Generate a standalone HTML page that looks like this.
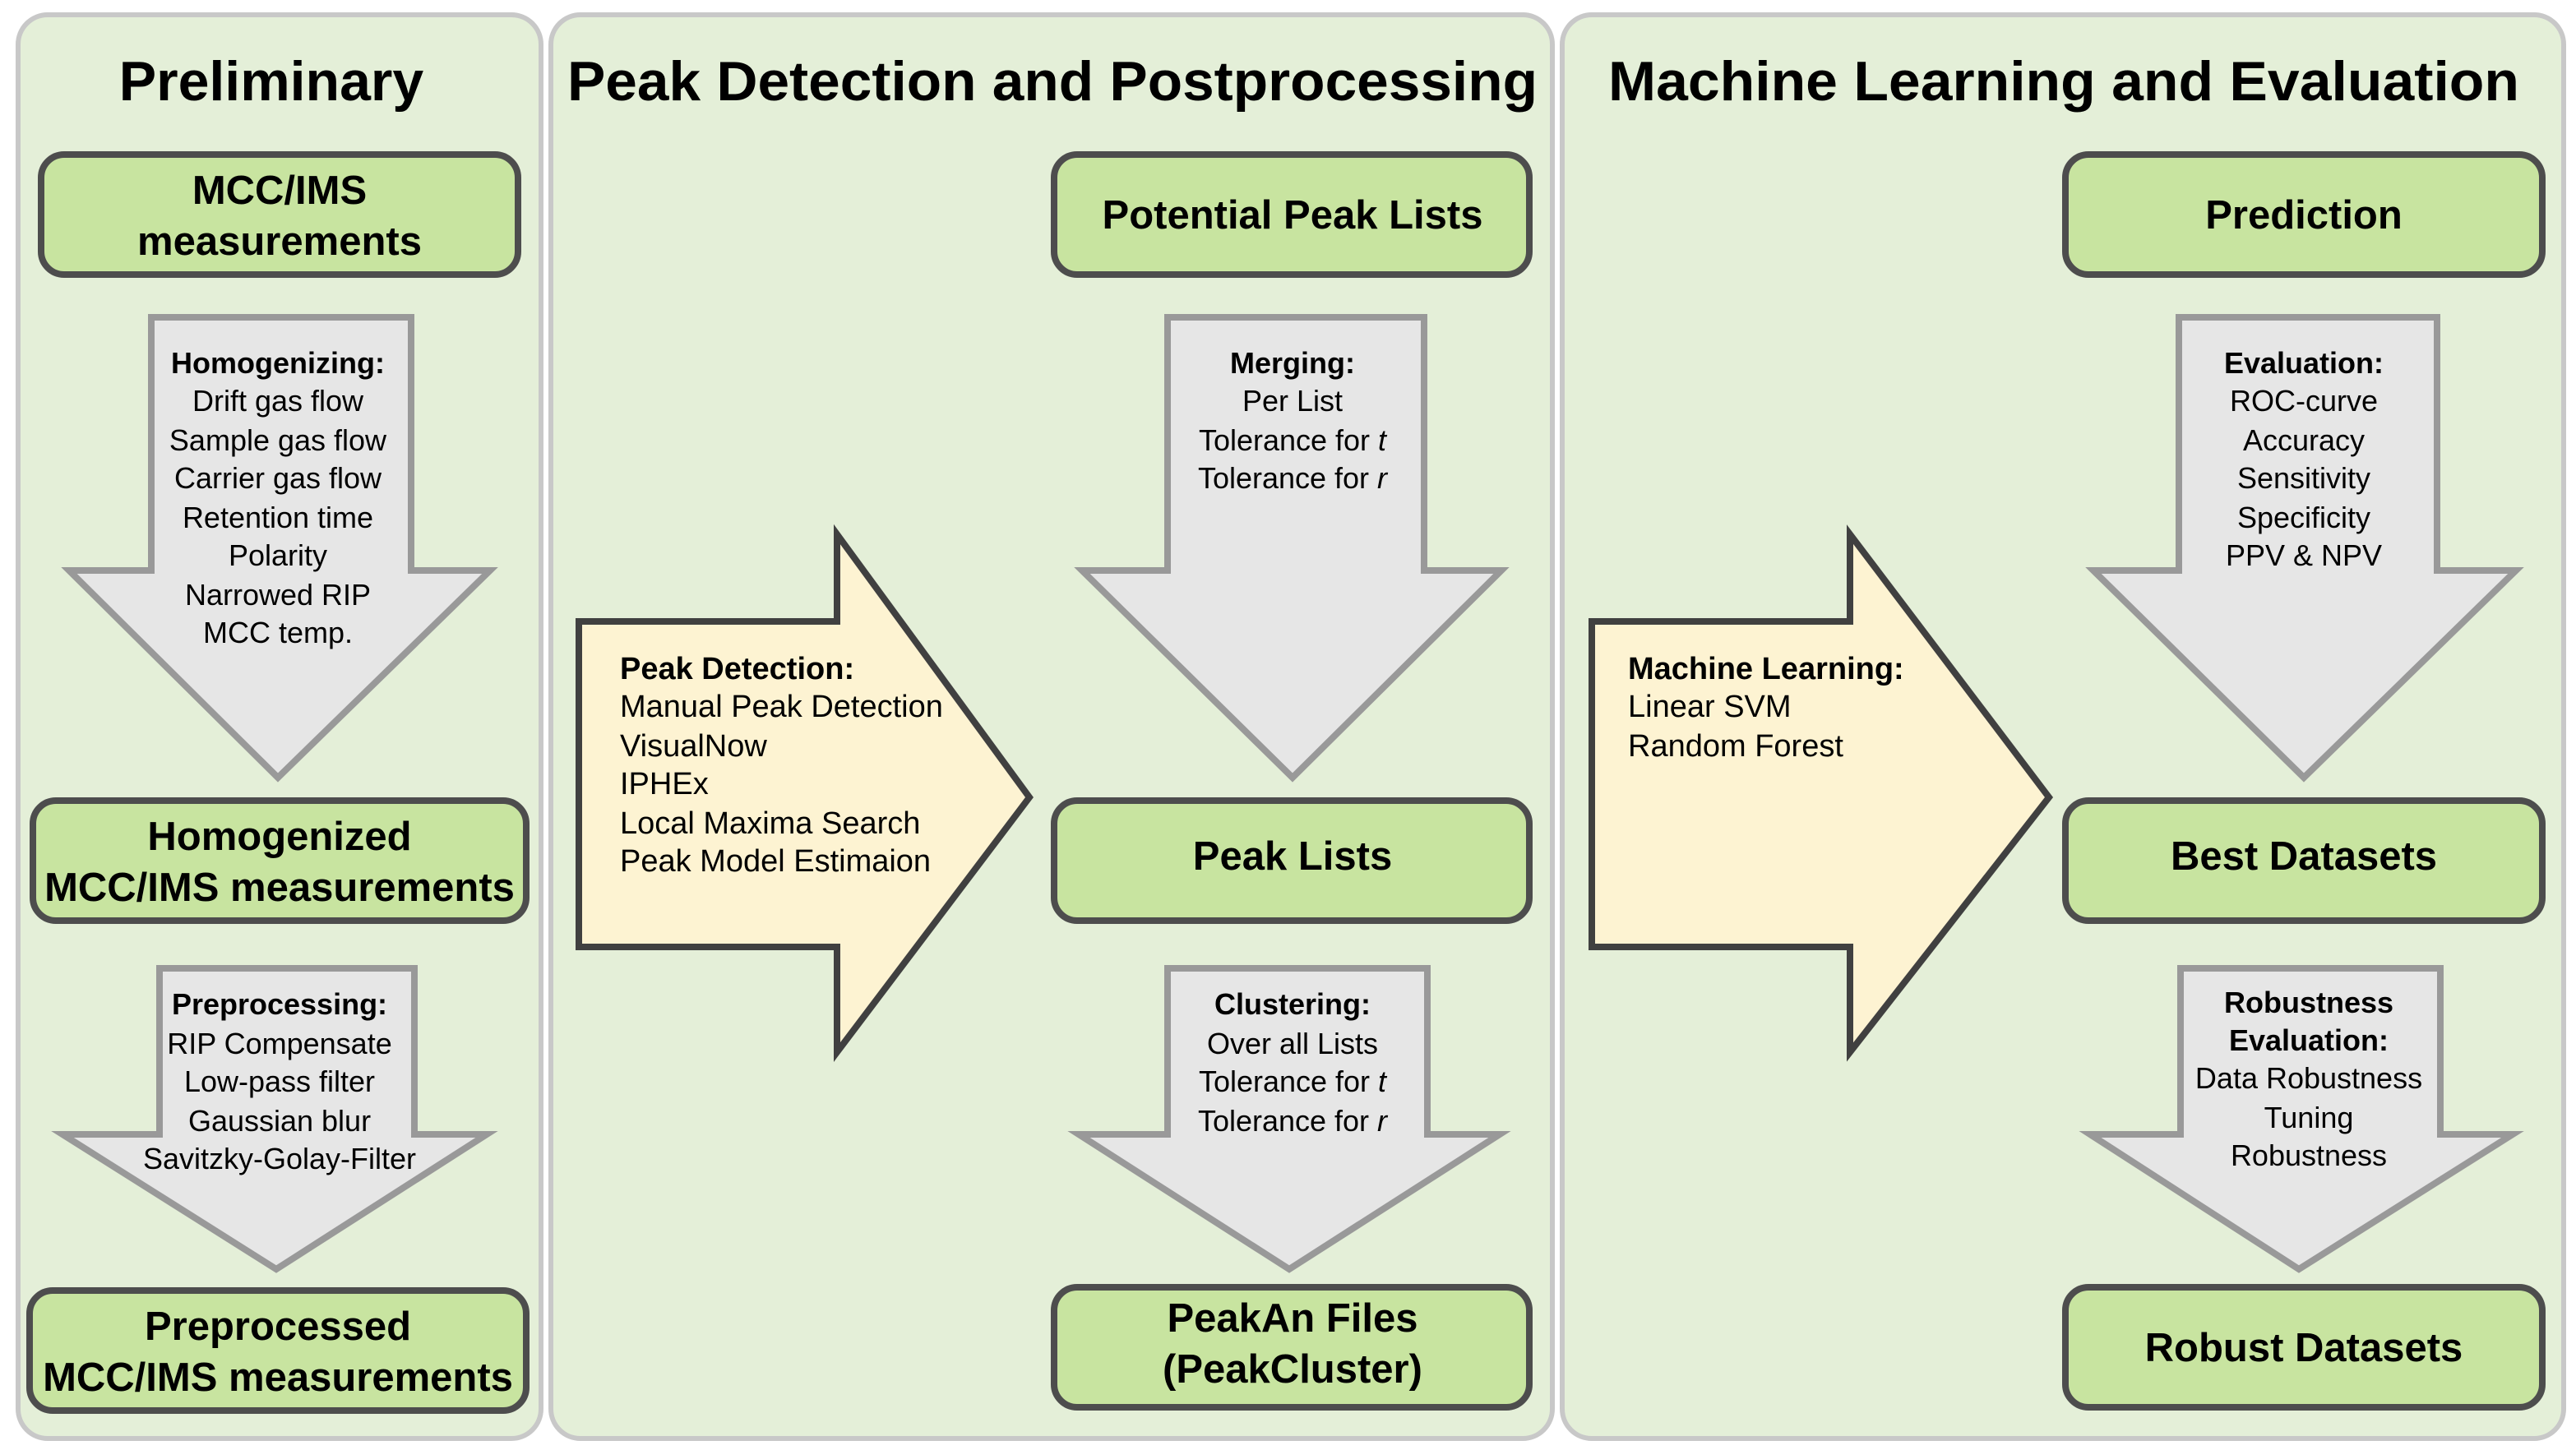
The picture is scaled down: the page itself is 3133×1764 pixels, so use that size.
<!DOCTYPE html>
<html><head><meta charset="utf-8"><style>
html,body{margin:0;padding:0;background:#fff;}
svg{display:block;}
text{font-family:"Liberation Sans",sans-serif;fill:#000;}
.t{font-size:34px;font-weight:bold;text-anchor:middle;}
.b{font-size:24.5px;font-weight:bold;text-anchor:middle;}
.a{font-size:18px;text-anchor:middle;}
.l{font-size:19px;}
.bold{font-weight:bold;}
.panel{fill:#e4efd8;stroke:#c8c8c8;stroke-width:3;}
.box{fill:#c8e4a0;stroke:#4d4d4d;stroke-width:4;}
.down{fill:#e6e6e6;stroke:#999;stroke-width:4;}
.right{fill:#fdf3d2;stroke:#404040;stroke-width:4;}
</style></head><body>
<svg width="3133" height="1764" viewBox="0 0 1566.5 882" preserveAspectRatio="none" xmlns="http://www.w3.org/2000/svg">
<rect x="0" y="0" width="1566.5" height="882" fill="#fff"/>
<rect class="panel" x="11" y="9" width="318" height="866" rx="18"/>
<rect class="panel" x="335" y="9" width="609" height="866" rx="18"/>
<rect class="panel" x="950" y="9" width="609" height="866" rx="18"/>

<text class="t" x="165" y="61">Preliminary</text>
<text class="t" x="640" y="61" textLength="590" lengthAdjust="spacingAndGlyphs">Peak Detection and Postprocessing</text>
<text class="t" x="1255" y="61" textLength="554" lengthAdjust="spacingAndGlyphs">Machine Learning and Evaluation</text>

<polygon class="down" points="92,193 250,193 250,347 298,347 169,473 42,347 92,347"/>
<polygon class="down" points="97,589 252,589 252,690 296,690 168,772 38,690 97,690"/>
<polygon class="down" points="710,193 866,193 866,347 913,347 786,473 658,347 710,347"/>
<polygon class="down" points="710,589 868,589 868,690 912,690 784,772 656,690 710,690"/>
<polygon class="down" points="1325,193 1482,193 1482,347 1530,347 1401,473 1273,347 1325,347"/>
<polygon class="down" points="1326,589 1484,589 1484,690 1528,690 1398,772 1271,690 1326,690"/>

<polygon class="right" points="352,378 509,378 509,325 626,485 509,640 509,576 352,576"/>
<polygon class="right" points="968,378 1125,378 1125,325 1246,485 1125,640 1125,576 968,576"/>

<rect class="box" x="25" y="94" width="290" height="73" rx="14"/>
<rect class="box" x="20" y="487" width="300" height="73" rx="14"/>
<rect class="box" x="18" y="785" width="302" height="73" rx="14"/>
<rect class="box" x="641" y="94" width="289" height="73" rx="14"/>
<rect class="box" x="641" y="487" width="289" height="73" rx="14"/>
<rect class="box" x="641" y="783" width="289" height="73" rx="14"/>
<rect class="box" x="1256" y="94" width="290" height="73" rx="14"/>
<rect class="box" x="1256" y="487" width="290" height="73" rx="14"/>
<rect class="box" x="1256" y="783" width="290" height="73" rx="14"/>

<text class="b" x="170" y="124">MCC/IMS</text>
<text class="b" x="170" y="155">measurements</text>
<text class="b" x="170" y="517">Homogenized</text>
<text class="b" x="170" y="548">MCC/IMS measurements</text>
<text class="b" x="169" y="815">Preprocessed</text>
<text class="b" x="169" y="846">MCC/IMS measurements</text>
<text class="b" x="786" y="139">Potential Peak Lists</text>
<text class="b" x="786" y="529">Peak Lists</text>
<text class="b" x="786" y="810">PeakAn Files</text>
<text class="b" x="786" y="841">(PeakCluster)</text>
<text class="b" x="1401" y="139">Prediction</text>
<text class="b" x="1401" y="529">Best Datasets</text>
<text class="b" x="1401" y="828">Robust Datasets</text>

<text x="169" y="227" class="a bold">Homogenizing:</text>
<text x="169" y="250" class="a">Drift gas flow</text>
<text x="169" y="274" class="a">Sample gas flow</text>
<text x="169" y="297" class="a">Carrier gas flow</text>
<text x="169" y="321" class="a">Retention time</text>
<text x="169" y="344" class="a">Polarity</text>
<text x="169" y="368" class="a">Narrowed RIP</text>
<text x="169" y="391" class="a">MCC temp.</text>

<text x="170" y="617" class="a bold">Preprocessing:</text>
<text x="170" y="641" class="a">RIP Compensate</text>
<text x="170" y="664" class="a">Low-pass filter</text>
<text x="170" y="688" class="a">Gaussian blur</text>
<text x="170" y="711" class="a">Savitzky-Golay-Filter</text>

<text x="786" y="227" class="a bold">Merging:</text>
<text x="786" y="250" class="a">Per List</text>
<text x="786" y="274" class="a">Tolerance for <tspan font-style="italic">t</tspan></text>
<text x="786" y="297" class="a">Tolerance for <tspan font-style="italic">r</tspan></text>

<text x="786" y="617" class="a bold">Clustering:</text>
<text x="786" y="641" class="a">Over all Lists</text>
<text x="786" y="664" class="a">Tolerance for <tspan font-style="italic">t</tspan></text>
<text x="786" y="688" class="a">Tolerance for <tspan font-style="italic">r</tspan></text>

<text x="1401" y="227" class="a bold">Evaluation:</text>
<text x="1401" y="250" class="a">ROC-curve</text>
<text x="1401" y="274" class="a">Accuracy</text>
<text x="1401" y="297" class="a">Sensitivity</text>
<text x="1401" y="321" class="a">Specificity</text>
<text x="1401" y="344" class="a">PPV &amp; NPV</text>

<text x="1404" y="616" class="a bold">Robustness</text>
<text x="1404" y="639" class="a bold">Evaluation:</text>
<text x="1404" y="662" class="a">Data Robustness</text>
<text x="1404" y="686" class="a">Tuning</text>
<text x="1404" y="709" class="a">Robustness</text>

<text x="377" y="413" class="l bold">Peak Detection:</text>
<text x="377" y="436" class="l">Manual Peak Detection</text>
<text x="377" y="460" class="l">VisualNow</text>
<text x="377" y="483" class="l">IPHEx</text>
<text x="377" y="507" class="l">Local Maxima Search</text>
<text x="377" y="530" class="l">Peak Model Estimaion</text>

<text x="990" y="413" class="l bold">Machine Learning:</text>
<text x="990" y="436" class="l">Linear SVM</text>
<text x="990" y="460" class="l">Random Forest</text>
</svg>
</body></html>
